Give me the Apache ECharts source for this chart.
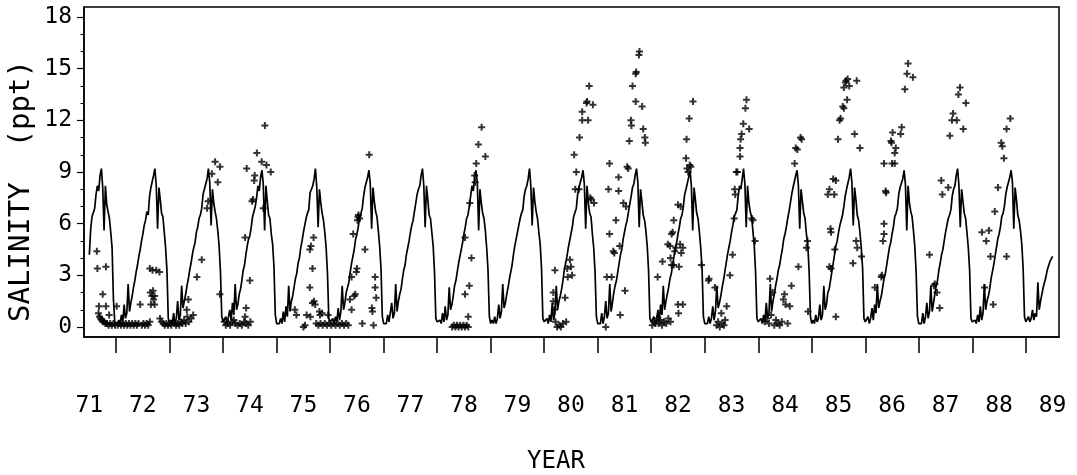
<!DOCTYPE html>
<html>
<head>
<meta charset="utf-8">
<script src="https://cdn.jsdelivr.net/npm/echarts@6/dist/echarts.min.js"></script>
<style>
  html, body { margin: 0; padding: 0; background: #fff; }
  #chart-wrap { width: 1077px; height: 475px; }
</style>
</head>
<body>
<div id="chart-wrap"></div>
<script>
// simulated salinity, sampled every 0.025 yr from 71.5 to 89.5
var simStart = 71.5;
var simStep = 0.025;
var sim71 = [4.2,5.7,6.4,6.5,6.9,7.7,8.2,7.9,8.8,9.2,8.1,5.6,8.2,7.1,6.7,6.3,5.5,4.6,1.6,0.3];
var sim72 = [0.3,0.2,0.4,0.2,0.7,0.3,1.3,0.5,0.8,2.5,0.9,1.4,1.8,2.3,2.7,3.2,3.6,4.1,4.5,5.0,5.4,5.9,6.2,6.7,6.5,7.6,8.1,8.0,8.8,9.2,8.2,5.7,8.1,7.4,6.6,6.4,5.5,4.6,3.3,0.5];
var sim73 = [0.2,0.4,0.2,0.8,0.2,0.5,1.5,0.4,0.7,2.4,1.1,1.5,1.9,2.4,2.8,3.3,3.7,4.2,4.6,4.9,5.5,5.8,6.3,6.5,6.9,7.7,8.0,8.3,8.6,9.2,8.4,5.9,8.0,7.2,6.7,6.3,5.6,4.7,3.2,0.6];
var sim74 = [0.3,0.2,0.6,0.2,0.3,1.0,0.4,1.4,0.7,2.5,1.0,1.3,1.9,2.2,2.7,3.3,3.6,4.2,4.7,5.1,5.3,5.8,6.4,6.5,7.0,7.5,8.2,7.9,8.7,9.1,8.3,5.6,8.2,7.3,6.5,6.3,5.4,4.8,3.5,0.7];
var sim75 = [0.2,0.3,0.2,0.5,0.2,0.9,0.3,1.2,0.6,2.4,0.9,1.5,1.8,2.3,2.8,3.1,3.7,4.0,4.6,5.0,5.5,5.9,6.3,6.6,6.8,7.8,8.0,8.2,8.6,9.2,8.1,5.8,8.0,7.2,6.6,6.2,5.5,4.6,3.1,0.5];
var sim76 = [0.3,0.2,0.5,0.2,0.6,0.3,1.1,0.4,0.9,2.4,1.0,1.4,2.0,2.3,2.6,3.2,3.7,4.1,4.5,5.1,5.4,5.8,6.4,6.6,6.9,7.6,8.1,8.1,8.7,9.1,8.3,5.7,8.1,7.3,6.7,6.4,5.6,4.7,3.4,0.6];
var sim77 = [0.2,0.3,0.2,0.7,0.3,0.4,1.4,0.5,0.8,2.5,0.9,1.5,1.9,2.2,2.8,3.3,3.6,4.2,4.6,5.0,5.5,5.9,6.2,6.7,6.6,7.7,8.0,8.2,8.8,9.2,8.2,5.8,8.2,7.4,6.5,6.3,5.5,4.7,3.2,0.5];
var sim78 = [0.3,0.2,0.4,0.2,0.8,0.3,1.2,0.4,0.7,2.3,1.0,1.3,1.8,2.4,2.7,3.2,3.7,4.1,4.5,4.9,5.4,5.8,6.3,6.5,7.0,7.6,8.2,7.9,8.7,9.1,8.4,5.6,8.0,7.2,6.6,6.3,5.6,4.6,3.3,0.6];
var sim79 = [0.2,0.4,0.2,0.6,0.2,0.5,1.3,0.5,0.9,2.5,1.1,1.4,1.9,2.3,2.8,3.2,3.6,4.2,4.7,5.1,5.5,5.9,6.3,6.6,6.8,7.6,8.0,8.2,8.6,9.2,8.2,5.9,8.1,7.3,6.7,6.3,5.5,4.8,3.4,0.5];
var sim80 = [0.3,0.2,0.5,0.2,0.7,0.3,1.4,0.4,0.8,2.4,1.0,1.5,1.8,2.2,2.7,3.3,3.7,4.1,4.6,5.0,5.4,5.8,6.4,6.5,6.9,7.7,8.1,8.0,8.7,9.1,8.3,5.7,8.2,7.2,6.6,6.4,5.4,4.6,3.2,0.6];
var sim81 = [0.2,0.3,0.2,0.8,0.2,0.6,1.5,0.5,0.8,2.5,0.9,1.4,2.0,2.4,2.7,3.2,3.7,4.2,4.5,5.1,5.5,5.9,6.2,6.7,6.7,7.6,8.1,8.3,8.8,9.2,8.4,5.8,8.0,7.3,6.5,6.2,5.6,4.7,3.3,0.5];
var sim82 = [0.3,0.2,0.6,0.2,0.4,1.0,0.3,1.3,0.7,2.4,1.0,1.5,1.9,2.3,2.8,3.1,3.6,4.1,4.6,4.9,5.4,5.8,6.3,6.5,7.0,7.7,8.0,8.1,8.7,9.1,8.2,5.6,8.1,7.4,6.6,6.3,5.5,4.6,3.4,0.6];
var sim83 = [0.2,0.3,0.2,0.6,0.2,0.5,1.2,0.4,0.9,2.4,1.1,1.4,1.8,2.3,2.7,3.2,3.7,4.2,4.6,5.0,5.5,5.9,6.4,6.6,6.8,7.6,8.2,8.0,8.6,9.2,8.3,5.8,8.2,7.2,6.7,6.4,5.6,4.7,3.2,0.5];
var sim84 = [0.3,0.2,0.5,0.2,0.7,0.3,1.4,0.5,0.8,2.5,0.9,1.5,1.9,2.4,2.8,3.3,3.6,4.1,4.5,5.1,5.4,5.8,6.3,6.7,6.6,7.7,8.1,8.2,8.8,9.1,8.2,5.7,8.0,7.3,6.6,6.3,5.4,4.8,3.3,0.6];
var sim85 = [0.2,0.4,0.2,0.7,0.3,0.5,1.3,0.4,0.7,2.4,1.0,1.3,2.0,2.2,2.7,3.2,3.7,4.2,4.7,5.0,5.5,5.9,6.2,6.5,7.0,7.6,8.0,8.1,8.7,9.2,8.4,5.9,8.1,7.4,6.5,6.2,5.5,4.6,3.4,0.5];
var sim86 = [0.3,0.2,0.6,0.2,0.5,1.1,0.4,1.3,0.8,2.5,1.1,1.5,1.8,2.3,2.8,3.1,3.6,4.1,4.6,4.9,5.4,5.8,6.4,6.6,6.9,7.7,8.1,8.0,8.6,9.1,8.3,5.6,8.2,7.2,6.7,6.4,5.6,4.7,3.2,0.6];
var sim87 = [0.2,0.3,0.2,0.8,0.2,0.6,1.4,0.5,0.9,2.4,0.9,1.4,1.9,2.4,2.7,3.3,3.7,4.2,4.5,5.0,5.5,5.9,6.3,6.5,6.8,7.6,8.0,8.2,8.8,9.2,8.2,5.8,8.0,7.3,6.6,6.3,5.5,4.6,3.3,0.5];
var sim88 = [0.3,0.2,0.4,0.2,0.7,0.3,1.2,0.4,0.8,2.5,1.0,1.5,1.8,2.2,2.8,3.2,3.6,4.1,4.6,5.1,5.4,5.8,6.4,6.6,7.0,7.7,8.1,8.1,8.7,9.1,8.4,5.7,8.1,7.4,6.5,6.2,5.6,4.8,3.4,0.6];
var sim89 = [0.3,0.2,0.6,0.3,0.5,1.0,0.4,0.8,0.6,2.6,1.0,1.5,1.9,2.3,2.6,2.9,3.3,3.4,3.8,3.9,4.1];

// observed salinity [year, ppt]
var obs71 = [[71.64,4.4],[71.65,3.4],[71.81,3.5],[71.75,1.9],[71.68,1.2],[71.87,0.7],[71.81,1.2],
  [71.67,0.8],[71.69,0.6],[71.71,0.5],[71.73,0.4],[71.75,0.3],[71.78,0.3],[71.80,0.2],[71.83,0.2],
  [71.86,0.1],[71.89,0.2],[71.92,0.1],[71.95,0.2],[71.98,0.1]];
var obs72 = [[72.01,1.2],[72.03,0.1],[72.06,0.2],[72.09,0.1],[72.12,0.2],[72.15,0.1],[72.18,0.2],[72.21,0.1],
  [72.24,0.2],[72.27,0.1],[72.30,0.2],[72.33,0.1],[72.36,0.2],[72.39,0.1],[72.42,0.2],[72.45,1.3],[72.48,0.1],
  [72.51,0.2],[72.54,0.1],[72.57,0.2],[72.60,0.1],[72.63,0.3],[72.63,3.4],[72.68,3.3],[72.75,3.3],[72.81,3.2],
  [72.64,2.0],[72.69,2.1],[72.67,1.8],[72.72,1.8],[72.65,1.3],[72.72,1.3],[72.70,1.6],
  [72.82,0.5],[72.85,0.3],[72.88,0.2],[72.91,0.1],[72.94,0.2],[72.97,0.1]];
var obs73 = [[73.00,0.2],[73.03,0.1],[73.06,0.3],[73.09,0.2],[73.12,0.1],[73.15,0.2],[73.18,0.1],[73.21,0.3],
  [73.24,0.2],[73.27,0.4],[73.30,0.2],[73.33,0.6],[73.36,0.3],[73.40,0.5],[73.44,0.7],[73.32,1.0],[73.35,1.6],
  [73.51,2.9],[73.60,3.9],[73.70,6.9],[73.72,7.3],[73.79,8.9],[73.85,9.6],[73.90,8.4],[73.94,9.3],[73.94,1.9]];
var obs74 = [[74.02,0.3],[74.05,0.1],[74.09,0.2],[74.13,0.1],[74.17,0.3],[74.20,0.4],[74.23,0.2],[74.27,0.1],
  [74.31,0.2],[74.35,0.1],[74.39,0.3],[74.43,0.2],[74.47,0.1],[74.51,0.3],[74.41,0.6],[74.43,1.1],[74.50,2.7],
  [74.41,5.2],[74.54,7.3],[74.56,7.4],[74.58,8.5],[74.59,8.8],[74.44,9.2],[74.63,10.1],[74.72,9.6],[74.78,11.7],
  [74.81,9.4],[74.89,9.0],[74.75,6.9]];
var obs75 = [[75.34,1.0],[75.37,0.7],[75.50,0.0],[75.56,0.7],[75.53,0.1],[75.62,4.5],[75.62,2.3],[75.64,4.7],
  [75.67,3.4],[75.69,5.2],[75.67,1.4],[75.70,1.5],[75.72,1.3],[75.63,0.6],[75.81,0.7],[75.80,0.9],[75.85,0.8],
  [75.96,0.7],[75.74,0.2],[75.78,0.1],[75.82,0.2],[75.86,0.1],[75.90,0.2],[75.94,0.1],[75.98,0.2]];
var obs76 = [[76.02,0.1],[76.06,0.2],[76.10,0.1],[76.14,0.2],[76.18,0.1],[76.22,0.2],[76.26,0.1],[76.30,0.2],
  [76.34,0.1],[76.37,1.6],[76.40,2.9],[76.43,5.4],[76.45,1.8],[76.47,1.9],[76.40,1.0],[76.50,3.4],[76.49,3.2],
  [76.52,6.4],[76.53,6.5],[76.55,6.3],[76.51,6.2],[76.65,4.5],[76.60,0.2],[76.73,10.0],[76.78,1.1],[76.79,0.9],
  [76.84,2.9],[76.84,2.3],[76.86,1.7],[76.81,0.1]];
var obs78 = [[78.28,0.0],[78.31,0.1],[78.34,0.0],[78.37,0.1],[78.40,0.0],[78.43,0.1],[78.46,0.0],[78.49,0.1],
  [78.52,0.0],[78.55,0.1],[78.58,0.0],[78.52,5.2],[78.52,1.9],[78.58,0.6],[78.60,2.4],[78.61,7.2],[78.64,4.0],
  [78.70,8.8],[78.71,8.4],[78.73,9.5],[78.77,10.6],[78.83,11.6],[78.90,9.9]];
var obs80 = [[80.17,2.0],[80.17,1.5],[80.19,1.0],[80.20,3.3],[80.21,0.3],[80.24,0.0],[80.28,0.1],[80.31,0.0],
  [80.35,0.2],[80.39,1.7],[80.41,0.3],[80.43,3.4],[80.44,2.9],[80.48,3.9],[80.50,3.5],[80.52,3.0],[80.56,10.0],
  [80.58,8.0],[80.60,9.0],[80.65,8.0],[80.66,11.0],[80.71,12.5],[80.71,12.0],[80.79,13.0],[80.80,13.1],
  [80.82,12.0],[80.84,14.0],[80.86,7.5],[80.88,7.4],[80.91,12.9],[80.93,7.2]];
var obs81 = [[81.15,0.0],[81.17,2.9],[81.20,8.0],[81.22,9.5],[81.22,5.4],[81.26,2.9],[81.29,4.4],[81.31,4.3],
  [81.34,6.2],[81.41,4.7],[81.39,8.7],[81.39,7.9],[81.42,0.7],[81.48,7.2],[81.53,7.0],[81.51,2.1],[81.55,9.3],
  [81.57,9.2],[81.59,10.8],[81.62,12.0],[81.63,11.7],[81.65,14.0],[81.71,14.7],[81.72,14.8],[81.71,13.1],
  [81.77,15.8],[81.78,16.0],[81.83,12.8],[81.85,11.5],[81.88,11.0],[81.89,10.7]];
var obs82 = [[82.02,0.1],[82.05,0.3],[82.08,0.2],[82.11,0.5],[82.14,0.2],[82.17,0.4],[82.20,0.1],[82.24,0.3],
  [82.28,0.2],[82.32,0.5],[82.36,0.3],[82.12,2.9],[82.21,3.8],[82.31,4.8],[82.35,4.7],[82.38,5.4],[82.40,5.5],
  [82.42,6.2],[82.36,4.0],[82.38,3.6],[82.42,3.6],[82.44,4.4],[82.46,4.6],[82.52,3.5],[82.54,4.8],[82.55,7.0],
  [82.56,4.3],[82.59,4.6],[82.50,1.3],[82.51,0.8],[82.59,1.3],[82.50,7.1],[82.65,9.8],[82.66,10.9],[82.67,9.2],
  [82.69,9.0],[82.71,12.1],[82.72,9.4],[82.74,9.3],[82.78,13.1],[82.94,3.6]];
var obs83 = [[83.07,2.7],[83.08,2.8],[83.19,2.3],[83.22,0.1],[83.25,0.3],[83.28,0.0],[83.31,0.8],[83.33,0.2],
  [83.36,0.1],[83.38,0.4],[83.41,1.2],[83.47,3.0],[83.52,4.2],[83.55,6.3],[83.56,8.0],[83.57,7.7],[83.59,9.0],
  [83.61,9.0],[83.66,9.9],[83.66,10.4],[83.67,10.9],[83.69,11.2],[83.72,11.8],[83.76,12.7],[83.78,13.2],
  [83.83,11.5],[83.88,6.3],[83.90,6.2],[83.94,5.0]];
var obs84 = [[84.12,0.3],[84.16,0.5],[84.20,0.2],[84.22,2.8],[84.24,0.7],[84.27,2.0],[84.30,0.1],[84.33,0.4],
  [84.36,0.2],[84.40,0.1],[84.44,0.3],[84.47,1.6],[84.49,1.9],[84.51,1.3],[84.55,0.2],[84.59,1.2],[84.62,2.4],
  [84.68,9.5],[84.70,10.4],[84.73,10.3],[84.75,3.5],[84.79,11.0],[84.81,10.9],[84.90,4.6],[84.92,5.0],[84.93,0.9]];
var obs85 = [[85.30,7.7],[85.33,8.0],[85.40,8.6],[85.45,8.5],[85.42,7.7],[85.35,5.7],[85.36,5.5],[85.33,3.5],
  [85.36,3.4],[85.43,4.5],[85.45,0.6],[85.49,10.9],[85.52,12.0],[85.54,12.1],[85.58,12.8],[85.60,12.7],
  [85.60,13.9],[85.63,14.2],[85.64,14.3],[85.67,14.4],[85.66,13.2],[85.70,14.0],[85.84,14.3],[85.80,11.2],
  [85.90,10.4],[85.77,3.7],[85.83,5.0],[85.85,4.6],[85.93,4.1]];
var obs86 = [[86.18,2.3],[86.30,2.9],[86.31,3.0],[86.33,5.0],[86.35,5.4],[86.35,6.0],[86.39,7.8],[86.38,7.9],
  [86.35,9.5],[86.48,10.8],[86.49,10.7],[86.51,11.3],[86.55,10.1],[86.57,10.4],[86.50,9.5],[86.55,9.5],
  [86.68,11.6],[86.66,11.2],[86.74,13.8],[86.78,14.7],[86.80,15.3],[86.89,14.5]];
var obs87 = [[87.20,4.2],[87.28,2.4],[87.30,2.5],[87.34,2.0],[87.39,1.1],[87.42,8.5],[87.44,7.7],[87.55,8.1],
  [87.58,11.1],[87.62,12.0],[87.64,12.4],[87.71,12.0],[87.74,13.5],[87.77,13.9],[87.83,11.5],[87.88,13.0]];
var obs88 = [[88.18,5.5],[88.23,2.3],[88.26,5.0],[88.31,5.6],[88.34,4.1],[88.39,1.3],[88.42,6.7],[88.48,8.1],
  [88.54,10.7],[88.56,10.5],[88.59,9.8],[88.64,11.5],[88.71,12.1],[88.64,4.1]];

var yearTicks = [72,73,74,75,76,77,78,79,80,81,82,83,84,85,86,87,88,89];
var yearLabels = [71.5,72.5,73.5,74.5,75.5,76.5,77.5,78.5,79.5,80.5,81.5,82.5,83.5,84.5,85.5,86.5,87.5,88.5,89.5];
var salTicks = [0,3,6,9,12,15,18];
var salMinor = [1,2,4,5,7,8,10,11,13,14,16,17];

;(function(){
  var simAll = [].concat(sim71,sim72,sim73,sim74,sim75,sim76,sim77,sim78,sim79,sim80,
    sim81,sim82,sim83,sim84,sim85,sim86,sim87,sim88,sim89);
  var simLine = [];
  for (var i = 0, len = simAll.length; i < len; i++) {
    simLine.push([simStart + i * simStep, simAll[i]]);
  }
  var obsAll = [].concat(obs71,obs72,obs73,obs74,obs75,obs76,obs78,obs80,
    obs81,obs82,obs83,obs84,obs85,obs86,obs87,obs88);

  var font = 'DejaVu Sans Mono';
  var plus = 'path://M2.5,0h2v2.5h2.5v2h-2.5v2.5h-2v-2.5h-2.5v-2h2.5z';

  var myChart = echarts.init(document.getElementById('chart-wrap'));
  var option = {
    animation: false,
    backgroundColor: '#fff',
    grid: {
      left: 84, right: 18, top: 7, bottom: 138,
      show: true, borderColor: '#000', borderWidth: 1.5, backgroundColor: 'transparent'
    },
    xAxis: {
      type: 'value', min: 71.4, max: 89.62,
      axisLine: { show: true, onZero: false, lineStyle: { color: '#000', width: 1.5 } },
      axisTick: { show: true, customValues: yearTicks, length: 16, lineStyle: { color: '#000', width: 1.5 } },
      axisLabel: {
        customValues: yearLabels, margin: 58, color: '#000', fontFamily: font, fontSize: 23,
        formatter: function(v){ return String(Math.floor(v)); }
      },
      splitLine: { show: false }
    },
    yAxis: [{
      type: 'value', min: -0.58, max: 18.58,
      axisLine: { show: true, onZero: false, lineStyle: { color: '#000', width: 1.5 } },
      axisTick: { show: true, customValues: salTicks, length: 7, lineStyle: { color: '#000', width: 1.2 } },
      axisLabel: { customValues: salTicks, margin: 12, color: '#000', fontFamily: font, fontSize: 23 },
      splitLine: { show: false }
    }, {
      type: 'value', min: -0.58, max: 18.58, position: 'left',
      axisLine: { show: false, onZero: false },
      axisTick: { show: true, customValues: salMinor, length: 3.5, lineStyle: { color: '#000', width: 1 } },
      axisLabel: { show: false },
      splitLine: { show: false }
    }],
    graphic: [{
      type: 'text', x: 21, y: 191, rotation: Math.PI / 2,
      style: { text: 'SALINITY  (ppt)', fill: '#000', font: '29px "DejaVu Sans Mono"',
        textAlign: 'center', textVerticalAlign: 'middle' }
    }, {
      type: 'text', x: 556, y: 462,
      style: { text: 'YEAR', fill: '#000', font: '24px "DejaVu Sans Mono"',
        textAlign: 'center', textVerticalAlign: 'middle' }
    }],
    series: [{
      name: 'simulated', type: 'line', data: simLine, showSymbol: false,
      lineStyle: { color: '#000', width: 1.7 }
    }, {
      name: 'observed', type: 'scatter', data: obsAll, symbol: plus, symbolSize: 7,
      itemStyle: { color: '#000' }
    }]
  };
  myChart.setOption(option);
})();
</script>
</body>
</html>
